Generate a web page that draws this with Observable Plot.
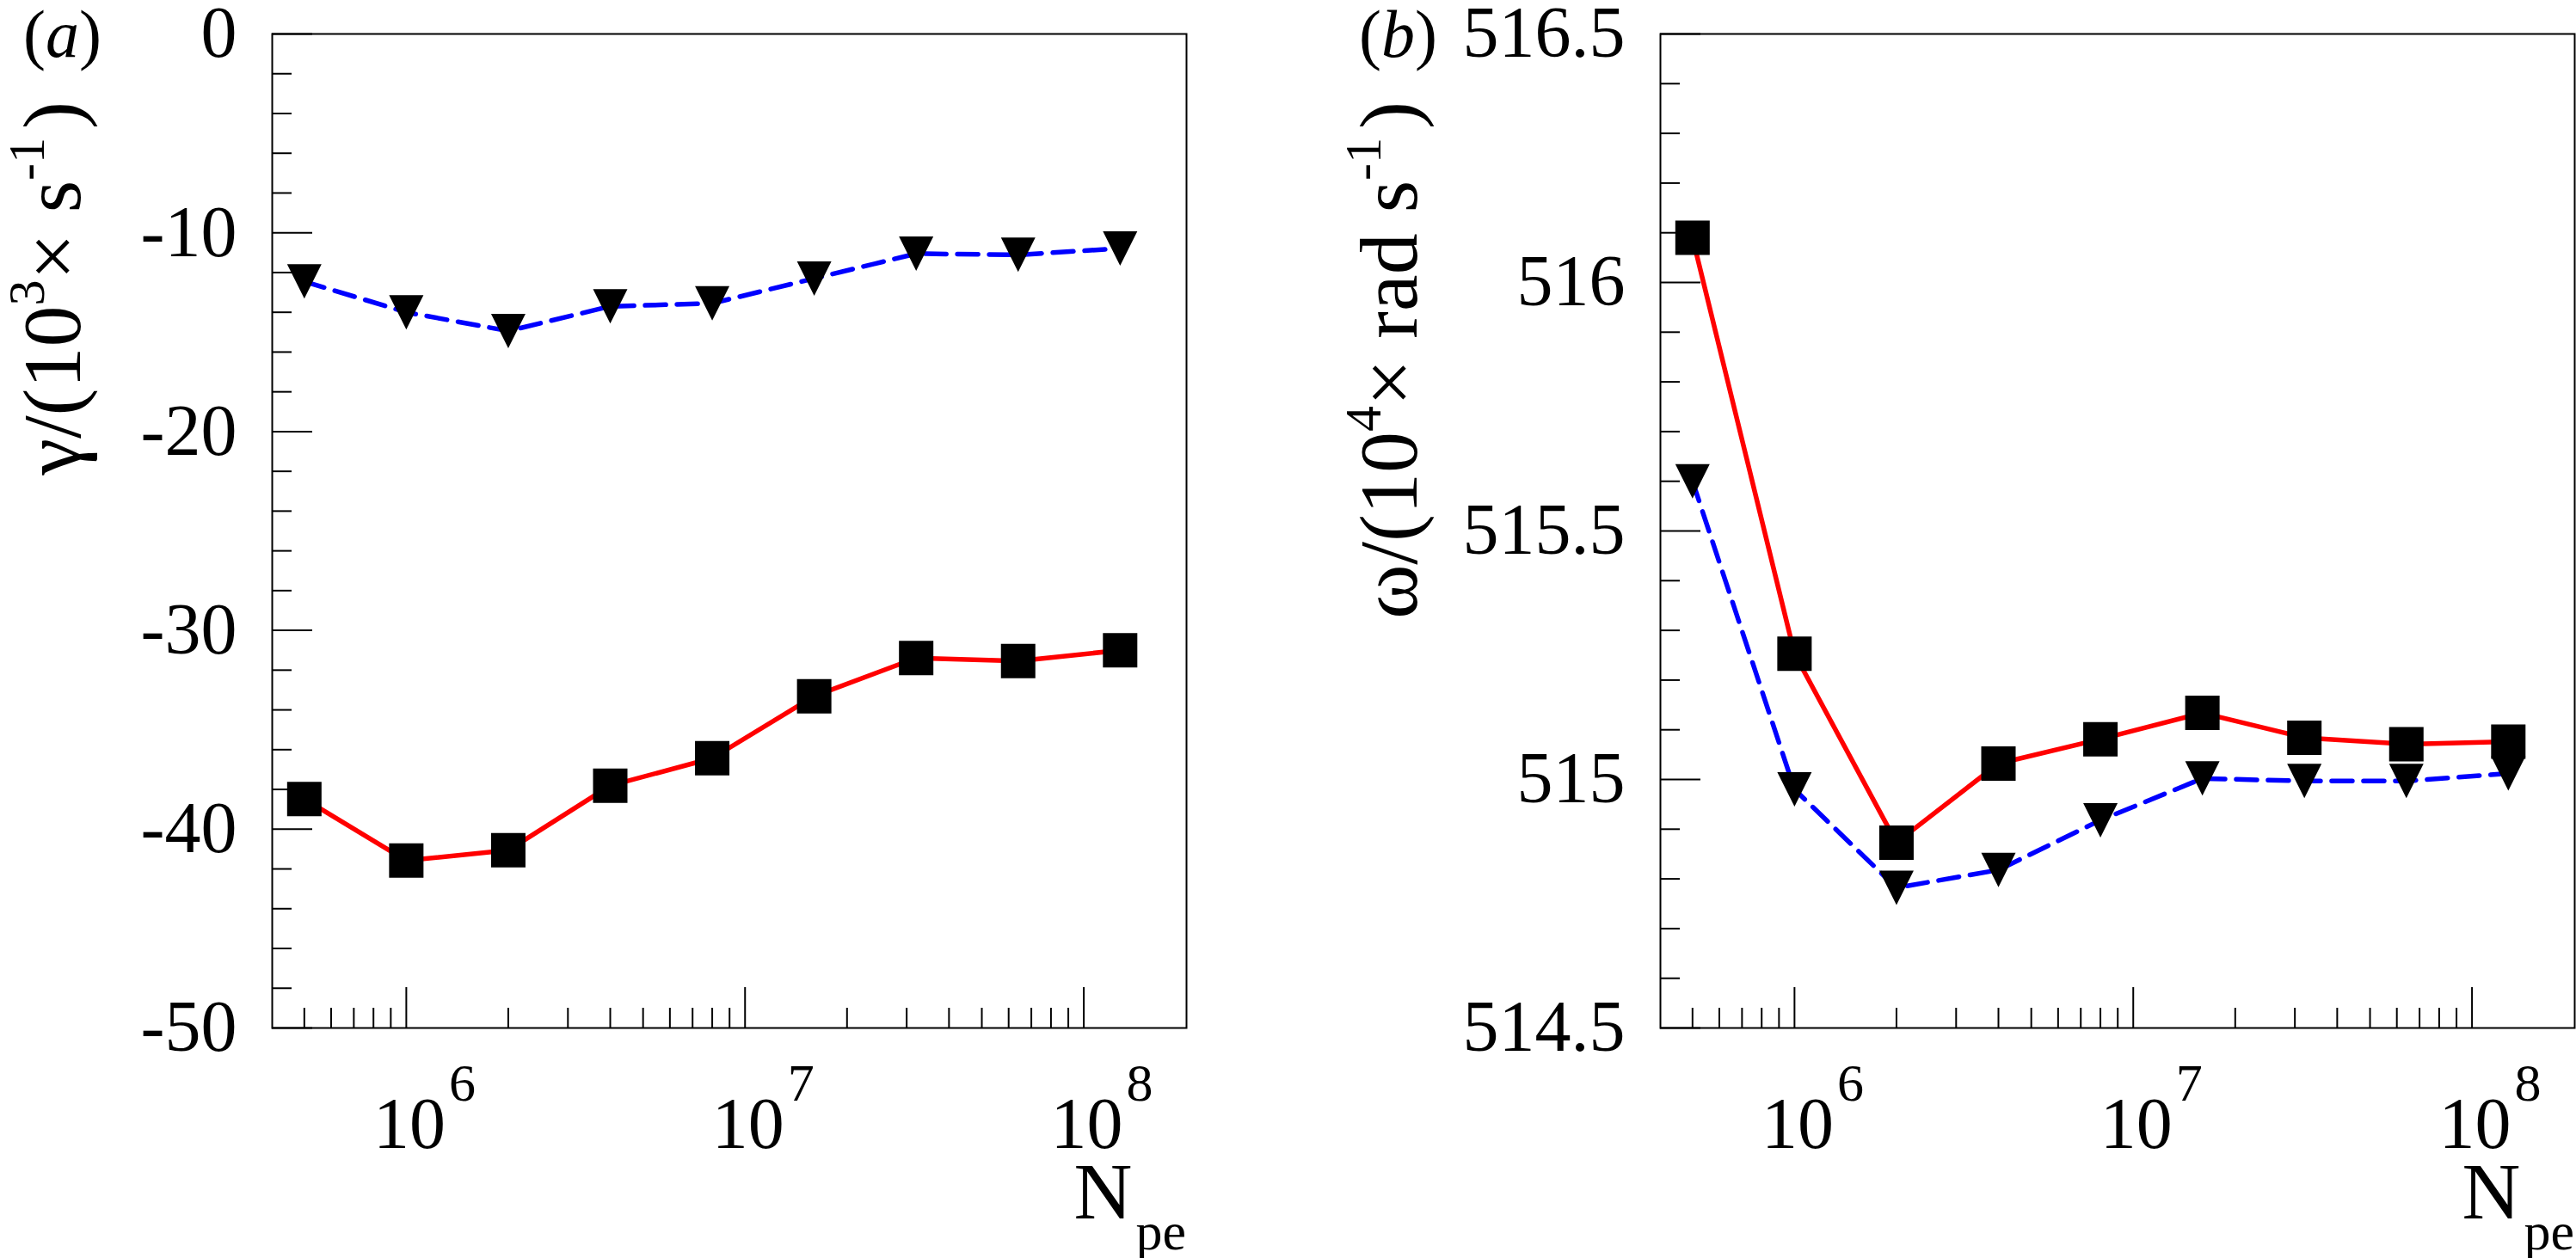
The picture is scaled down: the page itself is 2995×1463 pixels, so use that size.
<!DOCTYPE html>
<html>
<head>
<meta charset="utf-8">
<script src="https://cdn.jsdelivr.net/npm/d3@7"></script>
<script src="https://cdn.jsdelivr.net/npm/@observablehq/plot@0.6"></script>
<style>
  body { margin: 0; background: white; }
  #chart { display: flex; width: 2995px; height: 1463px; }
  svg text { font-family: "Liberation Serif", serif; }
</style>
</head>
<body>
<div id="chart"></div>
<script>
// N_pe (number of particles) for every run
const Npe = [5e5, 1e6, 2e6, 4e6, 8e6, 1.6e7, 3.2e7, 6.4e7, 1.28e8];

// panel (a): growth rate gamma, 10^3 s^-1
const gammaRed  = [-38.48, -41.58, -41.06, -37.81, -36.43, -33.31, -31.39, -31.54, -31.0];
const gammaBlue = [-12.45, -14.0, -14.94, -13.70, -13.55, -12.30, -11.05, -11.11, -10.79];

// panel (b): frequency omega, 10^4 rad s^-1
const omegaRed  = [516.09, 515.253, 514.873, 515.032, 515.081, 515.134, 515.084, 515.071, 515.076];
const omegaBlue = [515.60, 514.98, 514.782, 514.818, 514.918, 515.002, 514.997, 514.997, 515.012];

// tick labels
const gammaTicks = [0, -10, -20, -30, -40, -50];
const omegaTicks = [514.5, 515, 515.5, 516, 516.5];
const decadeExps = [6, 7, 8];

const xMajor = decadeExps.map(e => 10 ** e);
const xMinor = [];
for (const e of [5, 6, 7]) for (let m = 2; m <= 9; m++) if (m * 10 ** e > 4.1e5) xMinor.push(m * 10 ** e);

const H = 1463, mTop = 39, mBottom = 268;
const innerW = 1063, innerH = H - mTop - mBottom;

// ROOT style markers, centred on their bounding box
const squareSym = {draw(ctx, size) { const h = Math.sqrt(size / Math.PI); ctx.rect(-h, -h, 2 * h, 2 * h); }};
const triDownSym = {draw(ctx, size) {
  const h = Math.sqrt(size / Math.PI);
  ctx.moveTo(-h, -h); ctx.lineTo(h, -h); ctx.lineTo(0, h); ctx.closePath();
}};

function panel({width, marginLeft, yDomain, yTicks, yMinor, red, blue, letter, letterX, titleX, yTitle}) {
  const rows = (ys) => Npe.map((n, i) => ({n, v: ys[i]}));
  const chart = Plot.plot({
    width, height: H,
    marginLeft, marginRight: width - marginLeft - innerW,
    marginTop: mTop, marginBottom: mBottom,
    style: {fontFamily: "Liberation Serif", background: "white", overflow: "visible"},
    x: {type: "log", domain: [4.02e5, 2.01e8], axis: null},
    y: {domain: yDomain, axis: null},
    marks: [
      Plot.tickY(yTicks, {y: d => d, insetRight: innerW - 47, stroke: "black", strokeWidth: 2}),
      Plot.tickY(yMinor, {y: d => d, insetRight: innerW - 23, stroke: "black", strokeWidth: 2}),
      Plot.tickX(xMajor, {x: d => d, insetTop: innerH - 47, stroke: "black", strokeWidth: 2}),
      Plot.tickX(xMinor, {x: d => d, insetTop: innerH - 23, stroke: "black", strokeWidth: 2}),
      Plot.axisY(yTicks, {tickSize: 0, tickPadding: 41, fontSize: 84, tickFormat: d => String(d), label: null}),
      Plot.frame({stroke: "black", strokeWidth: 2}),
      Plot.line(rows(blue), {x: "n", y: "v", stroke: "#0000ff", strokeWidth: 5.5, strokeDasharray: "24,13"}),
      Plot.line(rows(red), {x: "n", y: "v", stroke: "#ff0000", strokeWidth: 5.5}),
      Plot.dot(rows(blue), {x: "n", y: "v", symbol: triDownSym, r: 20, fill: "black", stroke: "none"}),
      Plot.dot(rows(red), {x: "n", y: "v", symbol: squareSym, r: 20, fill: "black", stroke: "none"})
    ]
  });

  const svg = d3.select(chart);
  const sx = chart.scale("x");

  // x tick labels 10^k
  decadeExps.forEach(e => {
    const cx = sx.apply(10 ** e) + 4;
    const t = svg.append("text").attr("x", cx - 42).attr("y", 1335).attr("text-anchor", "start")
      .attr("font-size", 84).attr("fill", "black");
    t.append("tspan").text("10");
    t.append("tspan").attr("dx", 4).attr("dy", -55).attr("font-size", 62).text(e);
  });

  // x title N_pe
  const nt = svg.append("text").attr("x", marginLeft + innerW).attr("y", 1417)
    .attr("text-anchor", "end").attr("font-size", 94).attr("fill", "black");
  nt.append("tspan").text("N");
  nt.append("tspan").attr("dx", 4).attr("dy", 36).attr("font-size", 62).text("pe");

  // y title (rotated)
  const yt = svg.append("text").attr("transform", `translate(${titleX},118) rotate(-90)`)
    .attr("text-anchor", "end").attr("font-size", 96).attr("fill", "black");
  yt.append("tspan").text(yTitle[0]);
  yt.append("tspan").attr("dy", -42).attr("font-size", 60).text(yTitle[1]);
  yt.append("tspan").attr("dy", 42).text(yTitle[2]);
  yt.append("tspan").attr("dy", -42).attr("font-size", 60).text("-1");
  yt.append("tspan").attr("dy", 42).attr("dx", 10).text(")");

  // panel letter
  const lt = svg.append("text").attr("x", letterX).attr("y", 66).attr("text-anchor", "start")
    .attr("font-size", 78).attr("fill", "black");
  lt.append("tspan").text("(");
  lt.append("tspan").attr("font-style", "italic").text(letter);
  lt.append("tspan").text(")");

  return chart;
}

const chartA = panel({
  width: 1497, marginLeft: 316,
  yDomain: [-50, 0], yTicks: gammaTicks,
  yMinor: d3.range(-48, 0, 2).filter(d => d % 10 !== 0),
  red: gammaRed, blue: gammaBlue, letter: "a", letterX: 27, titleX: 93,
  yTitle: ["γ/(10", "3", "× s"]
});

const chartB = panel({
  width: 1498, marginLeft: 433,
  yDomain: [514.5, 516.5], yTicks: omegaTicks,
  yMinor: d3.range(5146, 5165).filter(d => d % 5 !== 0).map(d => d / 10),
  red: omegaRed, blue: omegaBlue, letter: "b", letterX: 83, titleX: 150,
  yTitle: ["ω/(10", "4", "× rad s"]
});

d3.select('#chart').append(() => chartA);
d3.select('#chart').append(() => chartB);
</script>
</body>
</html>
